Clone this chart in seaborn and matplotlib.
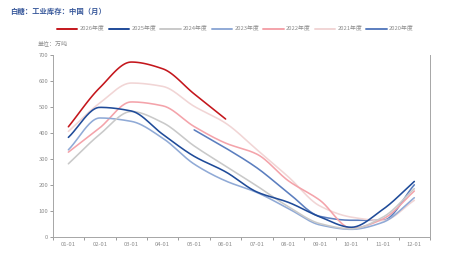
import numpy as np
import pandas as pd
import matplotlib
matplotlib.use("Agg")
import matplotlib.pyplot as plt
from matplotlib.lines import Line2D
import seaborn as sns

months = ["01-01", "02-01", "03-01", "04-01", "05-01", "06-01",
          "07-01", "08-01", "09-01", "10-01", "11-01", "12-01"]
nan = np.nan
y2026 = [424, 575, 674, 648, 551, 454, nan, nan, nan, nan, nan, nan]
y2025 = [383, 499, 485, 395, 310, 250, 172, 132, 76, 36, 105, 213]
y2024 = [281, 395, 483, 440, 350, 272, 195, 115, 50, 30, 75, 185]
y2023 = [335, 458, 445, 380, 280, 215, 170, 108, 45, 28, 55, 150]
y2022 = [326, 420, 520, 505, 425, 361, 318, 215, 140, 32, 68, 176]
y2021 = [406, 516, 593, 580, 503, 438, 335, 230, 118, 75, 62, 140]
y2020 = [nan, nan, nan, nan, 412, 342, 265, 168, 78, 63, 63, 200]

series = {"2026年度": y2026, "2025年度": y2025, "2024年度": y2024,
          "2023年度": y2023, "2022年度": y2022, "2021年度": y2021,
          "2020年度": y2020}
colors = {"2026年度": "#c4161c", "2025年度": "#1f4b99", "2024年度": "#c9c9c9",
          "2023年度": "#90aad6", "2022年度": "#f4a3aa", "2021年度": "#f1d5d5",
          "2020年度": "#5b7ebf"}


def smooth(xs, ys, n=24):
    xs = np.asarray(xs, float)
    ys = np.asarray(ys, float)
    m = len(xs)
    if m < 3:
        return xs, ys
    h = np.diff(xs)
    d = np.diff(ys) / h
    t = np.zeros(m)
    t[0], t[-1] = d[0], d[-1]
    for i in range(1, m - 1):
        if d[i - 1] * d[i] <= 0:
            t[i] = 0.0
        else:
            t[i] = 2.0 / (1.0 / d[i - 1] + 1.0 / d[i])
    ox, oy = [], []
    for i in range(m - 1):
        s = np.linspace(0, 1, n, endpoint=(i == m - 2))
        h00 = 2 * s**3 - 3 * s**2 + 1
        h10 = s**3 - 2 * s**2 + s
        h01 = -2 * s**3 + 3 * s**2
        h11 = s**3 - s**2
        ox.extend(xs[i] + s * h[i])
        oy.extend(h00 * ys[i] + h10 * h[i] * t[i] + h01 * ys[i + 1] + h11 * h[i] * t[i + 1])
    return np.array(ox), np.array(oy)


rows = []
for name, vals in series.items():
    v = np.array(vals, float)
    idx = np.where(~np.isnan(v))[0]
    sx, sy = smooth(idx, v[idx])
    rows.append(pd.DataFrame({"x": sx, "y": sy, "year": name, "o": np.arange(len(sx))}))
df = pd.concat(rows, ignore_index=True)

sns.set_theme(style="white")
plt.rcParams["font.family"] = ["Noto Sans CJK SC", "DejaVu Sans"]

fig = plt.figure(figsize=(4.7, 2.78), dpi=100)
ax = fig.add_axes([0.112, 0.149, 0.803, 0.652])

order = list(series.keys())[::-1]
sns.lineplot(data=df, x="x", y="y", hue="year", hue_order=order, palette=colors,
             sort=False, estimator=None, units="year", legend=False, linewidth=1.15, ax=ax)

ax.set_xlim(-0.5, 11.5)
ax.set_ylim(0, 700)
ax.set_xlabel("")
ax.set_ylabel("")
ax.set_yticks(range(0, 701, 100))
ax.set_xticks(range(12))
ax.set_xticklabels(months)
ax.set_xticks(np.arange(-0.5, 12, 1), minor=True)
grey = "#8c8c8c"
ax.tick_params(axis="x", which="major", length=0, pad=4, labelsize=4.2, colors=grey)
ax.tick_params(axis="x", which="minor", length=2.5, width=0.6, color=grey, bottom=True)
ax.tick_params(axis="y", length=2.2, width=0.6, pad=1, labelsize=4.2, colors=grey, left=True)
for side in ["left", "bottom", "right"]:
    ax.spines[side].set_visible(True)
    ax.spines[side].set_color("#a6a6a6")
    ax.spines[side].set_linewidth(0.7)
ax.spines["top"].set_visible(False)

fig.text(0.021, 0.972, "白糖：工业库存：中国（月）", fontsize=5.3, fontweight="bold",
         color="#3a5a9c", ha="left", va="top")
fig.text(0.081, 0.845, "单位：万吨", fontsize=4.3, color=grey, ha="left", va="center")

handles = [Line2D([0], [0], color=colors[k], lw=1.4) for k in series]
fig.legend(handles, list(series.keys()), loc="center", bbox_to_anchor=(0.501, 0.896),
           ncol=7, frameon=False, fontsize=4.2, handlelength=3.5, handletextpad=0.4,
           columnspacing=0.7, labelcolor=grey)

fig.savefig("out.png", dpi=100)
